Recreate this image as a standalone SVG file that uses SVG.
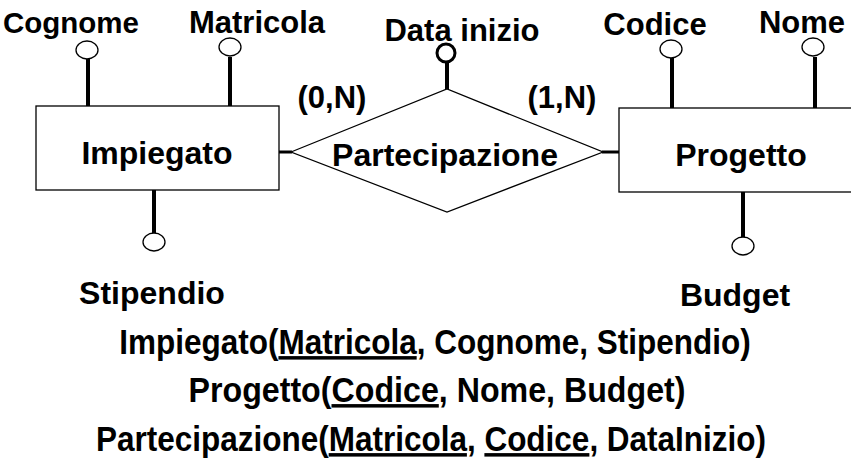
<svg xmlns="http://www.w3.org/2000/svg" width="851" height="470" viewBox="0 0 851 470">
  <style>
    .lbl { font-family: "Liberation Sans", Arial, sans-serif; font-weight: bold; font-size: 31px; fill: #000; }
    .big { font-size: 32px; }
    .small { font-size: 29.5px; }
    .rel { font-family: "Liberation Sans", Arial, sans-serif; font-weight: bold; font-size: 35px; fill: #000; text-anchor: middle; }
    .mid { text-anchor: middle; }
    .box { fill: #fff; stroke: #000; stroke-width: 1.3; }
    .stem { stroke: #000; stroke-width: 4; fill: none; }
    .link { stroke: #000; stroke-width: 3; fill: none; }
    .dot { fill: #fff; stroke: #000; stroke-width: 1.3; }
  </style>

  <rect width="851" height="470" fill="#fff"/>

  <!-- connectors: entity to relationship, attribute stems -->
  <g id="connectors">
    <line class="link" x1="279" y1="152" x2="292" y2="152"/>
    <line class="link" x1="602" y1="152" x2="619" y2="152"/>
    <line class="stem" x1="88" y1="59" x2="88" y2="117"/>
    <line class="stem" x1="230" y1="57" x2="230" y2="106"/>
    <line class="stem" x1="154" y1="175" x2="154" y2="233"/>
    <line class="stem" x1="447" y1="62" x2="447" y2="118"/>
    <line class="stem" x1="672" y1="58" x2="672" y2="117"/>
    <line class="stem" x1="815" y1="57" x2="815" y2="113"/>
    <line class="stem" x1="743" y1="192" x2="743" y2="237"/>
  </g>

  <!-- entity: Impiegato -->
  <g id="impiegato">
    <rect class="box" x="36" y="106" width="243" height="84"/>
    <text class="lbl big mid" x="157" y="164">Impiegato</text>
  </g>

  <!-- entity: Progetto -->
  <g id="progetto">
    <rect class="box" x="619" y="108" width="260" height="84"/>
    <text class="lbl big mid" x="741" y="166">Progetto</text>
  </g>

  <!-- relationship: Partecipazione -->
  <g id="partecipazione">
    <polygon class="box" points="291,152 447,89 603,152 447,212"/>
    <text class="lbl big mid" x="445" y="166">Partecipazione</text>
    <text class="lbl mid" x="332" y="108">(0,N)</text>
    <text class="lbl mid" x="562" y="108">(1,N)</text>
  </g>

  <!-- attributes -->
  <g id="attr-cognome">
    <ellipse class="dot" cx="87" cy="50" rx="11" ry="9"/>
    <text class="lbl small mid" x="71" y="33">Cognome</text>
  </g>
  <g id="attr-matricola">
    <ellipse class="dot" cx="230" cy="47" rx="11" ry="9"/>
    <text class="lbl mid" x="257" y="33">Matricola</text>
  </g>
  <g id="attr-stipendio">
    <ellipse class="dot" cx="154" cy="242" rx="11" ry="9"/>
    <text class="lbl big mid" x="152" y="304">Stipendio</text>
  </g>
  <g id="attr-datainizio">
    <text class="lbl mid" x="462" y="41">Data inizio</text>
    <circle cx="446" cy="53" r="9" fill="#fff" stroke="#000" stroke-width="3"/>
  </g>
  <g id="attr-codice">
    <ellipse class="dot" cx="671" cy="49" rx="11" ry="9"/>
    <text class="lbl mid" x="655" y="35">Codice</text>
  </g>
  <g id="attr-nome">
    <ellipse class="dot" cx="813" cy="47" rx="11" ry="9"/>
    <text class="lbl mid" x="802" y="33">Nome</text>
  </g>
  <g id="attr-budget">
    <ellipse class="dot" cx="743" cy="246" rx="11" ry="9"/>
    <text class="lbl big mid" x="735" y="306">Budget</text>
  </g>

  <!-- relational schema (slightly condensed bold) -->
  <g id="schema">
    <text class="rel" transform="translate(435,354) scale(0.9,1)">Impiegato(<tspan text-decoration="underline">Matricola</tspan>, Cognome, Stipendio)</text>
    <text class="rel" transform="translate(437,402) scale(0.92,1)">Progetto(<tspan text-decoration="underline">Codice</tspan>, Nome, Budget)</text>
    <text class="rel" transform="translate(431,451) scale(0.9,1)">Partecipazione(<tspan text-decoration="underline">Matricola</tspan>, <tspan text-decoration="underline">Codice</tspan>, DataInizio)</text>
  </g>
</svg>
